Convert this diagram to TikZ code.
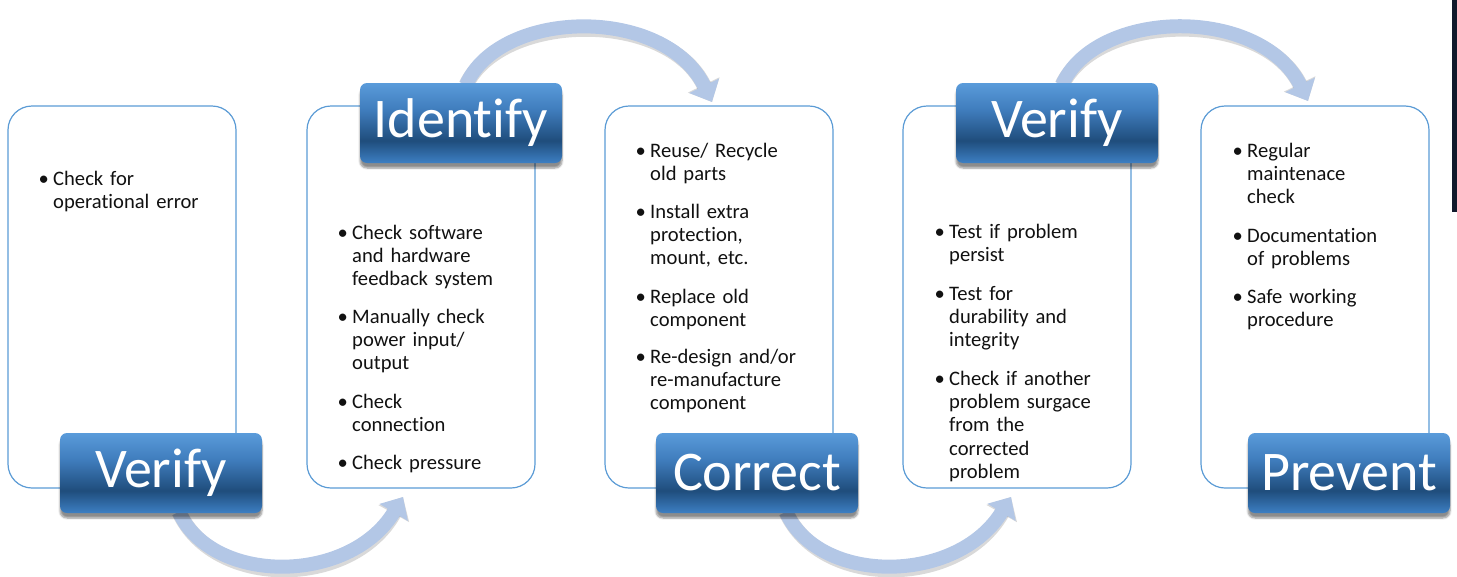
\documentclass[tikz,border=0pt]{standalone}
\usepackage{fontspec}
\setmainfont{Carlito}[Ligatures=NoCommon]
\usetikzlibrary{arrows.meta,shadows.blur}
\definecolor{boxline}{HTML}{5B9BD5}
\definecolor{arrowc}{HTML}{B3C7E6}
\definecolor{lbtop}{HTML}{5A9BDA}
\definecolor{lbup}{HTML}{3F7CBC}
\definecolor{lbmid}{HTML}{1F4D7C}
\definecolor{lbbot}{HTML}{3D7FC3}
\definecolor{txt}{HTML}{111111}
\definecolor{edgec}{HTML}{111A2C}
\pgfdeclareverticalshading{labelshade}{100bp}{color(0bp)=(lbbot); color(25bp)=(lbbot); color(39bp)=(lbmid); color(58bp)=(lbup); color(75bp)=(lbtop); color(100bp)=(lbtop)}
\tikzset{
  stepcard/.style={draw=boxline, line width=1.2pt, rounded corners=24pt, minimum width=228pt, minimum height=382pt, inner sep=0pt},
  stagelabel/.style={rounded corners=7pt, shading=labelshade, blur shadow={shadow xshift=0pt,shadow yshift=-5pt,shadow blur steps=6,shadow opacity=45}, text=white, font=\fontsize{56}{62}\selectfont, minimum width=202pt, minimum height=80pt, inner sep=0pt},
  flowarrow/.style={line width=14pt, draw=arrowc, -{Triangle[width=32pt,length=18pt]}},
  arrowshadow/.style={line width=15pt, draw=black, opacity=0.15, -{Triangle[width=34pt,length=19pt]}},
  itemtext/.style={anchor=base west, inner sep=0pt, text width=190pt, align=left, font=\fontsize{20.6}{23.4}\selectfont, text=txt},
  bul/.style={anchor=base east, inner sep=0pt, font=\fontsize{20.6}{23.4}\selectfont, text=txt}
}
\newcommand{\bitem}[4]{%
  \node[bul] (#1b) at (#2-4,#3) {•};
  \node[itemtext] (#1) at (#2,#3) {#4};}
\begin{document}
\begin{tikzpicture}[x=1pt,y=-1pt]
\useasboundingbox (0,0) rectangle (1457,576);
% body cards
\node[stepcard] (c1) at (122,297) {};
\node[stepcard] (c2) at (421,297) {};
\node[stepcard] (c3) at (719,297) {};
\node[stepcard] (c4) at (1017,297) {};
\node[stepcard] (c5) at (1315,297) {};
% items
\bitem{t11}{53}{185}{Check for\\operational error}
\bitem{t21}{352}{239}{Check software\\and hardware\\feedback system}
\bitem{t22}{352}{323}{Manually check\\power input/\\output}
\bitem{t23}{352}{408}{Check\\connection}
\bitem{t24}{352}{469}{Check pressure}
\bitem{t31}{650}{157}{Reuse/ Recycle\\old parts}
\bitem{t32}{650}{218}{Install extra\\protection,\\mount, etc.}
\bitem{t33}{650}{303}{Replace old\\component}
\bitem{t34}{650}{363}{Re-design and/or\\re-manufacture\\component}
\bitem{t41}{949}{238}{Test if problem\\persist}
\bitem{t42}{949}{300}{Test for\\durability and\\integrity}
\bitem{t43}{949}{385}{Check if another\\problem surgace\\from the\\corrected\\problem}
\bitem{t51}{1247}{157}{Regular\\maintenace\\check}
\bitem{t52}{1247}{242}{Documentation\\of problems}
\bitem{t53}{1247}{303}{Safe working\\procedure}
% arrow end points
\coordinate (a1s) at (179,512); \coordinate (a1e) at (403,497);
\coordinate (a2s) at (466,85);  \coordinate (a2e) at (712,102);
\coordinate (a3s) at (786,512); \coordinate (a3e) at (1011,497);
\coordinate (a4s) at (1062,85); \coordinate (a4e) at (1308,101);
% arrow shadows
\begin{scope}[shift={(2,4)}]
\draw[arrowshadow] (a1s) .. controls (212,585) and (350,585) .. (a1e);
\draw[arrowshadow] (a2s) .. controls (500,8) and (665,5) .. (a2e);
\draw[arrowshadow] (a3s) .. controls (819,585) and (957,585) .. (a3e);
\draw[arrowshadow] (a4s) .. controls (1096,8) and (1261,5) .. (a4e);
\end{scope}
% arrows
\draw[flowarrow] (a1s) .. controls (212,585) and (350,585) .. (a1e);
\draw[flowarrow] (a2s) .. controls (500,8) and (665,5) .. (a2e);
\draw[flowarrow] (a3s) .. controls (819,585) and (957,585) .. (a3e);
\draw[flowarrow] (a4s) .. controls (1096,8) and (1261,5) .. (a4e);
% stage labels
\node[stagelabel] (l1) at (161,473) {Verify};
\node[stagelabel] (l2) at (461,123) {Identify};
\node[stagelabel] (l3) at (757,473) {Correct};
\node[stagelabel] (l4) at (1057,123) {Verify};
\node[stagelabel] (l5) at (1349,473) {Prevent};
% dark edge at right
\fill[edgec] (1452,0) rectangle (1457,212);
\end{tikzpicture}
\end{document}
